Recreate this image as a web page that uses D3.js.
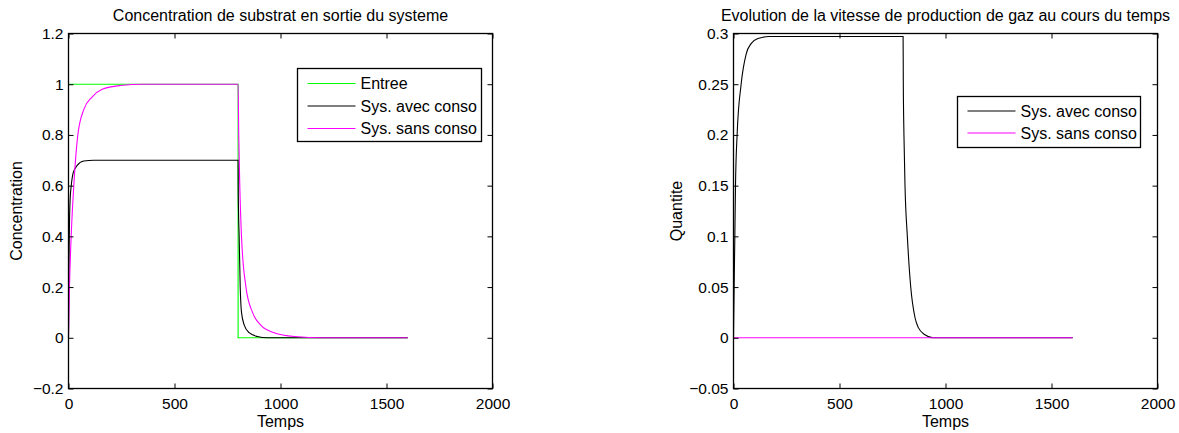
<!DOCTYPE html>
<html>
<head>
<meta charset="utf-8">
<script src="https://cdn.jsdelivr.net/npm/d3@7"></script>
<style>
  html, body { margin: 0; padding: 0; background: #fff; }
  svg { display: block; font-family: "Liberation Sans", Arial, Helvetica, sans-serif; }
  .tick-label { font-size: 15.5px; fill: #000; }
  .title, .axis-title, .legend-text { font-size: 16px; fill: #000; }
</style>
</head>
<body>
<svg id="fig" width="1179" height="433"></svg>
<script>
// ---- shared axis values ----
const timeTicks = [0, 500, 1000, 1500, 2000];
const concTicks = [-0.2, 0, 0.2, 0.4, 0.6, 0.8, 1, 1.2];
const gasTicks = [-0.05, 0, 0.05, 0.1, 0.15, 0.2, 0.25, 0.3];

// ---- substrate concentration at the outlet, [time, value] ----
const entree = [[0, 1], [800, 1], [800, 0], [1600, 0]];
const concAvecConso = [
  [0, 0], [1, 0.15], [2, 0.27], [3, 0.35], [5, 0.47], [8, 0.55], [13, 0.6],
  [22, 0.65], [41, 0.68], [72, 0.697], [120, 0.7], [800, 0.7],
  [800.5, 0.6], [802, 0.5], [805, 0.4], [810, 0.2], [816, 0.1], [829, 0.05],
  [852, 0.02], [891, 0.005], [937, 0], [1600, 0]
];
const concSansConso = [
  [0, 0], [4, 0.18], [12.6, 0.4], [25, 0.6], [44, 0.8], [72, 0.9], [112, 0.95],
  [159, 0.98], [245, 0.995], [350, 1], [800, 1],
  [803, 0.8], [808, 0.6], [816, 0.4], [837, 0.2], [868, 0.1], [907, 0.05],
  [970, 0.02], [1065, 0.005], [1200, 0], [1600, 0]
];

// ---- gas production rate, [time, value] ----
const gasAvecConso = [
  [0, 0], [3, 0.05], [6.3, 0.1], [9.4, 0.15], [17, 0.2], [36, 0.25], [60, 0.28],
  [83, 0.29], [115, 0.295], [170, 0.297], [800, 0.297],
  [801, 0.25], [804, 0.2], [809, 0.15], [820, 0.1], [836, 0.05], [856, 0.02],
  [872, 0.01], [903, 0.003], [942, 0], [1600, 0]
];
const gasSansConso = [[0, 0], [1600, 0]];

const svg = d3.select("#fig");
const fmt = v => (v < 0 ? "\u2212" : "") + String(Math.abs(+v.toFixed(4)));

function panel(opts) {
  const { left, right, top, bottom, yDomain, yTicks, title, yLabel, yLabelX, series, legend } = opts;
  const x = d3.scaleLinear().domain([0, 2000]).range([left, right]);
  const y = d3.scaleLinear().domain(yDomain).range([bottom, top]);
  const g = svg.append("g");
  const tickLen = 5;

  // curves
  const line = d3.line().x(d => x(d[0])).y(d => y(d[1])).curve(d3.curveMonotoneX);
  series.forEach(s => {
    g.append("path").datum(s.data)
      .attr("d", line)
      .attr("fill", "none")
      .attr("stroke", s.color)
      .attr("stroke-width", 1.1);
  });

  // axes: bottom/left with labels, top/right mirrored ticks
  const bottomAxis = d3.axisBottom(x).tickValues(timeTicks).tickSize(-tickLen).tickPadding(9).tickFormat(d3.format("d"));
  const topAxis = d3.axisTop(x).tickValues(timeTicks).tickSize(-tickLen).tickFormat("");
  const leftAxis = d3.axisLeft(y).tickValues(yTicks).tickSize(-tickLen).tickPadding(5).tickFormat(fmt);
  const rightAxis = d3.axisRight(y).tickValues(yTicks).tickSize(-tickLen).tickFormat("");

  const styleAxis = sel => {
    sel.select(".domain").remove();
    sel.selectAll(".tick line").attr("stroke", "#000").attr("stroke-width", 1);
    sel.selectAll(".tick text").attr("class", "tick-label").attr("font-family", null).attr("font-size", null);
  };
  g.append("g").attr("transform", `translate(0,${bottom})`).call(bottomAxis).call(styleAxis);
  g.append("g").attr("transform", `translate(0,${top})`).call(topAxis).call(styleAxis);
  g.append("g").attr("transform", `translate(${left},0)`).call(leftAxis).call(styleAxis);
  g.append("g").attr("transform", `translate(${right},0)`).call(rightAxis).call(styleAxis);

  // frame
  g.append("rect")
    .attr("x", left).attr("y", top)
    .attr("width", right - left).attr("height", bottom - top)
    .attr("fill", "none").attr("stroke", "#000").attr("stroke-width", 1.3);

  // texts
  g.append("text").attr("class", "title")
    .attr("x", (left + right) / 2).attr("y", 20.5)
    .attr("text-anchor", "middle").text(title);
  g.append("text").attr("class", "axis-title")
    .attr("x", (left + right) / 2).attr("y", 427)
    .attr("text-anchor", "middle").text("Temps");
  g.append("text").attr("class", "axis-title")
    .attr("transform", `translate(${yLabelX},${(top + bottom) / 2}) rotate(-90)`)
    .attr("text-anchor", "middle").text(yLabel);

  // legend
  const lg = g.append("g");
  lg.append("rect")
    .attr("x", legend.x0).attr("y", legend.y0)
    .attr("width", legend.x1 - legend.x0).attr("height", legend.y1 - legend.y0)
    .attr("fill", "#fff").attr("stroke", "#000").attr("stroke-width", 1.3);
  legend.items.forEach((it, i) => {
    const yy = legend.firstY + i * legend.step;
    lg.append("line")
      .attr("x1", legend.x0 + 10).attr("x2", legend.x0 + 58)
      .attr("y1", yy).attr("y2", yy)
      .attr("stroke", it.color).attr("stroke-width", 1.1);
    lg.append("text").attr("class", "legend-text")
      .attr("x", legend.x0 + 63).attr("y", yy + 5.5)
      .text(it.label);
  });
}

panel({
  left: 68.5, right: 492.5, top: 33.5, bottom: 388.5,
  yDomain: [-0.2, 1.2], yTicks: concTicks,
  title: "Concentration de substrat en sortie du systeme",
  yLabel: "Concentration", yLabelX: 22,
  series: [
    { data: entree, color: "#00ff00" },
    { data: concAvecConso, color: "#000000" },
    { data: concSansConso, color: "#ff00ff" }
  ],
  legend: {
    x0: 297.5, x1: 481.5, y0: 68.5, y1: 141.5, firstY: 83.5, step: 22.5,
    items: [
      { label: "Entree", color: "#00ff00" },
      { label: "Sys. avec conso", color: "#000000" },
      { label: "Sys. sans conso", color: "#ff00ff" }
    ]
  }
});

panel({
  left: 733.5, right: 1157.5, top: 33.5, bottom: 388.5,
  yDomain: [-0.05, 0.3], yTicks: gasTicks,
  title: "Evolution de la vitesse de production de gaz au cours du temps",
  yLabel: "Quantite", yLabelX: 682,
  series: [
    { data: gasAvecConso, color: "#000000" },
    { data: gasSansConso, color: "#ff00ff" }
  ],
  legend: {
    x0: 957.5, x1: 1140.5, y0: 96.5, y1: 147.5, firstY: 111, step: 22,
    items: [
      { label: "Sys. avec conso", color: "#000000" },
      { label: "Sys. sans conso", color: "#ff00ff" }
    ]
  }
});
</script>
</body>
</html>
